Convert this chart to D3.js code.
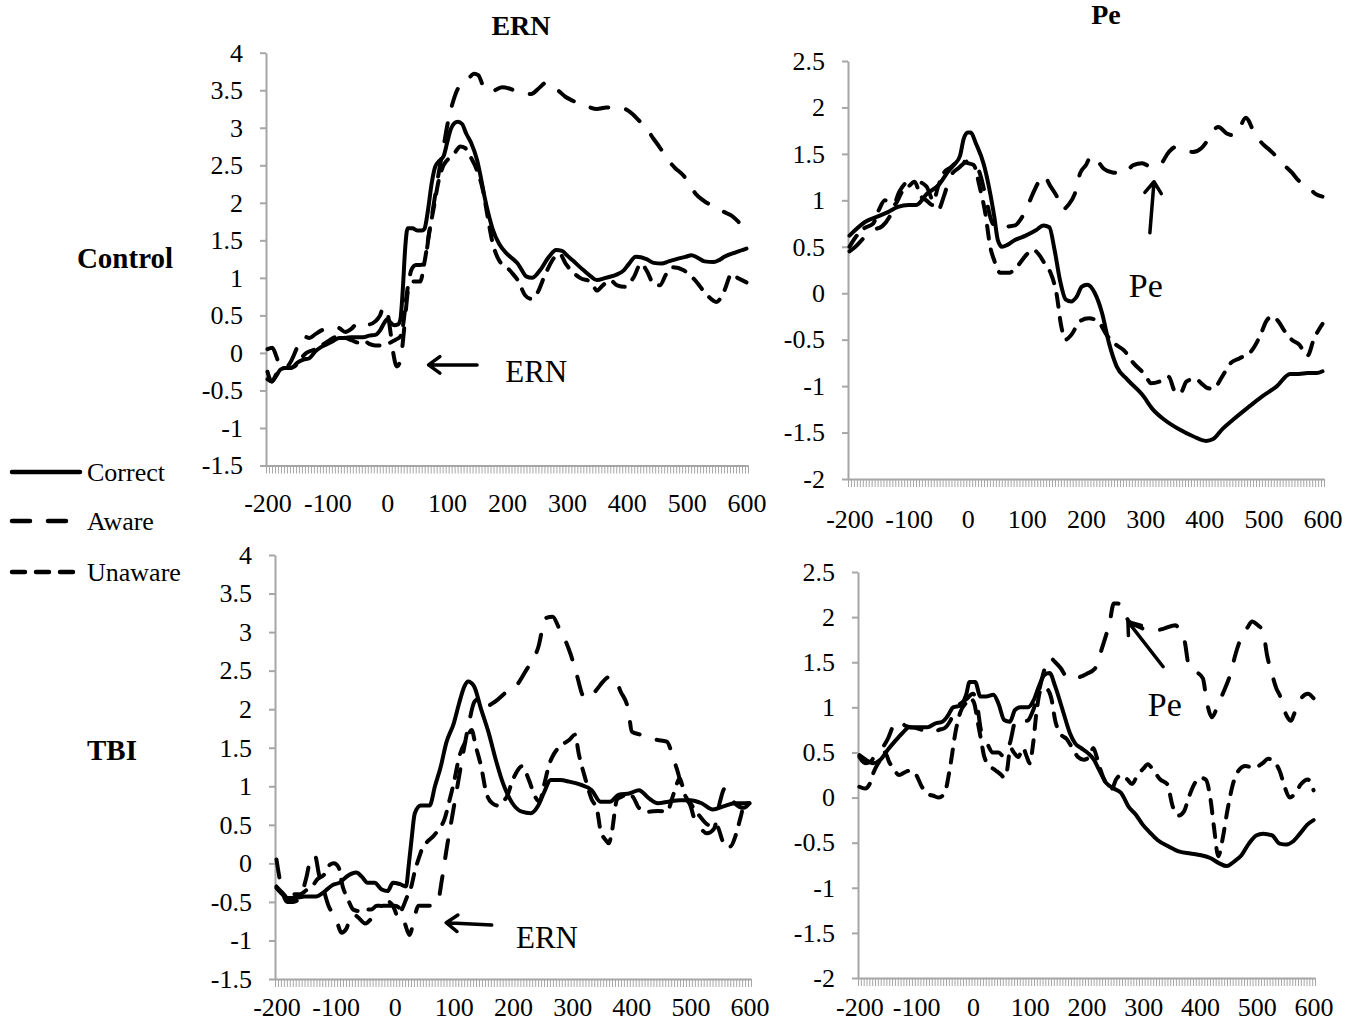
<!DOCTYPE html>
<html><head><meta charset="utf-8">
<script src="https://cdn.jsdelivr.net/npm/d3@7"></script>
<style>body{margin:0;background:#fff} svg{display:block}</style>
</head><body><svg id="c" width="1354" height="1024"></svg>
<script>
// ---------------- DATA ----------------
const xTickLabels = [-200, -100, 0, 100, 200, 300, 400, 500, 600];
const sampleStep = 5; // ms per category on the x axis
const ernTicks = [4, 3.5, 3, 2.5, 2, 1.5, 1, 0.5, 0, -0.5, -1, -1.5];
const peTicks = [2.5, 2, 1.5, 1, 0.5, 0, -0.5, -1, -1.5, -2];
const seriesNames = ["Correct", "Aware", "Unaware"];
const columnTitles = ["ERN", "Pe"];
const rowTitles = ["Control", "TBI"];

const controlErnCorrect = [[-200,-0.25],[-193,-0.38],[-185,-0.3],[-178,-0.22],[-170,-0.2],[-160,-0.2],[-150,-0.13],[-140,-0.09],[-130,-0.07],[-120,0.02],[-110,0.08],[-100,0.12],[-90,0.16],[-80,0.2],[-70,0.2],[-60,0.21],[-50,0.21],[-40,0.21],[-30,0.23],[-20,0.24],[-12,0.3],[-5,0.4],[0,0.45],[6,0.4],[12,0.37],[18,0.38],[22,0.45],[26,0.85],[30,1.4],[34,1.66],[42,1.66],[50,1.63],[58,1.63],[62,1.65],[68,1.9],[74,2.25],[80,2.48],[86,2.55],[94,2.62],[100,2.8],[106,2.98],[112,3.06],[118,3.08],[125,3.05],[132,2.92],[140,2.8],[150,2.57],[156,2.35],[162,2.1],[170,1.82],[176,1.65],[187,1.45],[200,1.32],[210,1.25],[218,1.19],[225,1.1],[232,1.02],[242,1.0],[255,1.1],[270,1.28],[282,1.37],[292,1.36],[300,1.3],[310,1.23],[328,1.1],[340,1.02],[350,0.97],[365,1.0],[385,1.05],[395,1.1],[403,1.18],[415,1.28],[433,1.25],[445,1.2],[458,1.19],[470,1.22],[483,1.25],[498,1.28],[508,1.3],[518,1.27],[530,1.22],[545,1.21],[555,1.24],[563,1.28],[582,1.34],[600,1.39]];
const controlErnAware = [[-200,0.05],[-192,0.07],[-185,-0.05],[-178,-0.2],[-170,-0.2],[-160,-0.1],[-150,0.08],[-140,0.22],[-130,0.2],[-120,0.25],[-110,0.3],[-100,0.33],[-90,0.35],[-80,0.33],[-70,0.28],[-60,0.32],[-50,0.4],[-40,0.42],[-30,0.38],[-20,0.42],[-12,0.5],[-6,0.62],[0,0.55],[5,0.3],[10,0.0],[16,-0.18],[22,-0.1],[28,0.3],[34,0.8],[40,1.1],[48,1.17],[55,1.17],[62,1.2],[70,1.6],[78,2.0],[86,2.4],[94,2.75],[102,3.1],[110,3.35],[118,3.52],[126,3.6],[135,3.65],[145,3.72],[152,3.7],[160,3.56],[170,3.48],[180,3.5],[192,3.54],[205,3.52],[220,3.47],[240,3.45],[255,3.54],[265,3.6],[275,3.56],[285,3.5],[298,3.41],[310,3.36],[322,3.31],[335,3.28],[350,3.25],[366,3.27],[385,3.27],[400,3.24],[410,3.18],[420,3.1],[432,3.0],[445,2.85],[455,2.74],[468,2.58],[480,2.47],[495,2.36],[505,2.25],[515,2.12],[530,2.02],[545,1.95],[562,1.88],[575,1.83],[590,1.72],[600,1.65]];
const controlErnUnaware = [[-200,-0.35],[-193,-0.38],[-185,-0.28],[-175,-0.2],[-165,-0.2],[-155,-0.18],[-145,-0.08],[-135,0.0],[-120,0.05],[-110,0.1],[-100,0.15],[-90,0.2],[-80,0.22],[-70,0.2],[-60,0.17],[-50,0.14],[-40,0.17],[-30,0.12],[-20,0.1],[-10,0.1],[0,0.12],[8,0.15],[15,0.18],[22,0.22],[27,0.4],[32,0.75],[37,0.95],[45,0.95],[55,0.95],[62,1.2],[70,1.6],[78,1.95],[86,2.3],[94,2.5],[104,2.6],[113,2.67],[122,2.75],[130,2.73],[140,2.6],[150,2.43],[160,2.16],[168,1.8],[175,1.5],[187,1.23],[200,1.14],[210,1.05],[218,0.97],[230,0.77],[240,0.72],[250,0.79],[264,1.05],[280,1.28],[288,1.32],[298,1.19],[307,1.1],[322,1.0],[341,0.94],[350,0.83],[360,0.9],[372,0.97],[384,0.9],[397,0.88],[411,1.0],[424,1.19],[433,1.1],[445,0.92],[455,0.9],[466,1.05],[477,1.14],[495,1.1],[514,0.97],[532,0.79],[550,0.68],[563,0.83],[575,1.05],[587,0.99],[600,0.94]];

const controlPeCorrect = [[-200,0.62],[-192,0.67],[-173,0.77],[-155,0.82],[-136,0.87],[-118,0.93],[-100,0.95],[-87,0.95],[-69,1.07],[-50,1.16],[-32,1.32],[-22,1.39],[-13,1.48],[-7,1.66],[0,1.73],[5,1.73],[14,1.61],[27,1.39],[36,1.14],[45,0.82],[51,0.57],[58,0.5],[67,0.52],[79,0.57],[98,0.62],[116,0.68],[128,0.73],[138,0.71],[147,0.46],[156,0.14],[166,-0.07],[175,-0.09],[184,-0.04],[193,0.07],[202,0.09],[215,0.0],[227,-0.21],[239,-0.54],[252,-0.79],[270,-0.93],[295,-1.09],[313,-1.25],[332,-1.36],[356,-1.46],[381,-1.54],[403,-1.59],[415,-1.57],[431,-1.46],[449,-1.36],[474,-1.23],[498,-1.11],[523,-1.0],[545,-0.87],[560,-0.87],[575,-0.86],[590,-0.86],[600,-0.84]];
const controlPeAware = [[-200,0.45],[-190,0.5],[-175,0.6],[-160,0.68],[-145,0.72],[-130,0.85],[-115,1.1],[-100,1.2],[-85,1.2],[-70,1.15],[-60,1.0],[-50,0.9],[-40,1.05],[-30,1.25],[-15,1.35],[0,1.42],[10,1.4],[20,1.3],[30,1.05],[40,0.78],[50,0.7],[60,0.7],[70,0.72],[80,0.73],[90,0.8],[100,0.92],[110,1.07],[120,1.2],[128,1.27],[140,1.15],[150,1.05],[160,0.9],[170,0.95],[181,1.07],[190,1.29],[200,1.38],[209,1.48],[220,1.42],[230,1.34],[245,1.3],[264,1.29],[280,1.38],[295,1.4],[310,1.36],[326,1.39],[340,1.52],[350,1.57],[365,1.55],[381,1.52],[395,1.56],[405,1.64],[415,1.75],[424,1.79],[438,1.72],[450,1.7],[460,1.78],[470,1.89],[486,1.71],[500,1.6],[511,1.54],[525,1.45],[535,1.38],[548,1.3],[560,1.21],[575,1.15],[588,1.07],[600,1.04]];
const controlPeUnaware = [[-200,0.5],[-190,0.6],[-175,0.7],[-160,0.75],[-150,0.9],[-140,1.0],[-125,0.95],[-110,1.1],[-100,1.15],[-90,1.2],[-80,1.05],[-70,1.0],[-60,0.95],[-50,1.15],[-40,1.3],[-30,1.35],[-20,1.4],[-10,1.42],[0,1.4],[10,1.38],[20,1.15],[30,0.85],[38,0.5],[45,0.35],[55,0.22],[70,0.22],[85,0.3],[100,0.42],[110,0.47],[120,0.42],[130,0.32],[140,0.22],[150,0.0],[158,-0.35],[165,-0.5],[175,-0.45],[190,-0.3],[205,-0.27],[220,-0.3],[235,-0.45],[250,-0.55],[265,-0.62],[280,-0.75],[300,-0.88],[310,-0.97],[325,-0.95],[340,-0.9],[350,-1.05],[360,-1.07],[370,-0.95],[385,-0.92],[395,-0.97],[405,-1.02],[415,-1.03],[430,-0.9],[445,-0.75],[460,-0.7],[480,-0.62],[495,-0.45],[505,-0.3],[515,-0.25],[525,-0.3],[535,-0.4],[548,-0.5],[560,-0.55],[575,-0.67],[585,-0.5],[595,-0.38],[600,-0.33]];

const tbiErnCorrect = [[-200,-0.32],[-193,-0.38],[-180,-0.45],[-170,-0.45],[-152,-0.43],[-133,-0.43],[-121,-0.38],[-105,-0.28],[-93,-0.25],[-81,-0.17],[-65,-0.12],[-56,-0.17],[-46,-0.25],[-34,-0.25],[-22,-0.34],[-12,-0.36],[-3,-0.25],[9,-0.27],[19,-0.3],[24,0.0],[28,0.28],[34,0.65],[44,0.75],[59,0.75],[68,1.0],[78,1.26],[87,1.56],[100,1.82],[109,2.08],[118,2.3],[124,2.36],[134,2.3],[146,2.0],[159,1.69],[171,1.34],[183,1.04],[199,0.78],[215,0.67],[230,0.65],[242,0.74],[252,0.91],[264,1.08],[280,1.08],[295,1.06],[314,1.02],[333,0.95],[348,0.8],[364,0.8],[379,0.89],[398,0.91],[413,0.95],[429,0.85],[445,0.78],[463,0.8],[482,0.82],[500,0.82],[519,0.78],[538,0.7],[556,0.74],[575,0.78],[600,0.78]];
const tbiErnAware = [[-200,0.05],[-192,-0.3],[-182,-0.5],[-172,-0.5],[-160,-0.45],[-150,-0.2],[-140,0.1],[-135,0.1],[-128,-0.15],[-120,-0.35],[-112,-0.55],[-100,-0.7],[-90,-0.9],[-82,-0.85],[-72,-0.65],[-62,-0.7],[-50,-0.78],[-40,-0.72],[-30,-0.6],[-20,-0.55],[-10,-0.55],[0,-0.55],[10,-0.6],[18,-0.8],[25,-0.93],[32,-0.75],[40,-0.55],[50,-0.55],[60,-0.55],[72,-0.52],[80,-0.2],[88,0.2],[97,0.6],[106,1.0],[115,1.4],[125,1.8],[135,2.1],[146,2.15],[158,2.05],[170,2.1],[190,2.23],[205,2.3],[221,2.49],[243,2.81],[255,3.18],[267,3.2],[278,3.05],[288,2.9],[298,2.7],[308,2.44],[320,2.16],[330,2.15],[339,2.23],[364,2.42],[375,2.35],[382,2.23],[395,1.99],[401,1.71],[415,1.67],[429,1.62],[445,1.6],[460,1.58],[472,1.34],[480,1.15],[488,0.9],[500,0.75],[507,0.57],[519,0.44],[528,0.39],[540,0.45],[550,0.8],[558,0.97],[565,0.88],[575,0.78],[590,0.72],[600,0.78]];
const tbiErnUnaware = [[-200,-0.3],[-190,-0.38],[-180,-0.45],[-170,-0.4],[-160,-0.4],[-150,-0.35],[-140,-0.3],[-130,-0.2],[-120,-0.15],[-110,-0.02],[-103,0.0],[-95,-0.05],[-88,-0.3],[-80,-0.45],[-70,-0.6],[-60,-0.62],[-50,-0.6],[-40,-0.6],[-30,-0.55],[-20,-0.55],[-10,-0.5],[-3,-0.55],[5,-0.68],[12,-0.6],[20,-0.45],[28,-0.3],[34,-0.1],[40,0.05],[47,0.2],[55,0.28],[65,0.35],[75,0.45],[84,0.57],[92,0.8],[100,1.05],[109,1.38],[121,1.6],[130,1.73],[137,1.52],[146,1.26],[155,0.91],[165,0.78],[175,0.75],[182,0.8],[190,0.87],[198,1.05],[205,1.17],[215,1.26],[227,1.08],[237,0.87],[245,0.8],[252,1.0],[262,1.3],[270,1.43],[280,1.52],[295,1.6],[305,1.67],[311,1.43],[323,1.08],[333,0.83],[342,0.7],[348,0.43],[357,0.3],[362,0.26],[367,0.4],[376,0.83],[385,0.87],[395,0.91],[404,0.85],[413,0.72],[429,0.67],[445,0.68],[460,0.67],[472,0.91],[482,1.1],[490,0.9],[500,0.78],[515,0.62],[530,0.5],[545,0.48],[556,0.27],[568,0.22],[576,0.35],[585,0.6],[592,0.78],[600,0.78]];

const tbiPeCorrect = [[-200,0.47],[-189,0.42],[-176,0.38],[-163,0.42],[-150,0.53],[-138,0.62],[-125,0.71],[-112,0.78],[-93,0.78],[-80,0.78],[-67,0.82],[-54,0.84],[-44,0.91],[-35,1.0],[-22,1.02],[-12,1.14],[-6,1.28],[4,1.28],[13,1.12],[23,1.12],[36,1.14],[45,1.04],[55,0.86],[65,0.84],[74,0.97],[84,1.0],[97,1.0],[107,1.08],[116,1.23],[126,1.36],[135,1.38],[145,1.23],[158,0.97],[171,0.71],[180,0.6],[190,0.55],[203,0.49],[213,0.42],[222,0.31],[235,0.16],[248,0.1],[261,0.05],[274,-0.1],[287,-0.19],[299,-0.3],[312,-0.39],[325,-0.47],[344,-0.54],[364,-0.6],[383,-0.62],[402,-0.64],[418,-0.67],[434,-0.73],[447,-0.76],[460,-0.71],[473,-0.64],[486,-0.51],[499,-0.42],[511,-0.4],[527,-0.42],[540,-0.51],[553,-0.52],[563,-0.49],[576,-0.4],[589,-0.3],[600,-0.25]];
const tbiPeAware = [[-200,0.45],[-190,0.38],[-180,0.4],[-170,0.5],[-160,0.55],[-150,0.65],[-140,0.8],[-130,0.85],[-120,0.8],[-110,0.78],[-100,0.77],[-90,0.75],[-80,0.72],[-70,0.72],[-60,0.75],[-50,0.77],[-40,0.85],[-30,1.0],[-20,1.05],[-10,1.1],[0,1.15],[5,1.1],[15,0.72],[25,0.6],[35,0.5],[45,0.5],[55,0.45],[65,0.6],[75,0.85],[85,0.88],[95,0.85],[105,0.95],[115,1.15],[125,1.4],[135,1.55],[145,1.5],[155,1.43],[163,1.35],[171,1.32],[185,1.33],[200,1.37],[215,1.43],[228,1.67],[241,1.95],[248,2.15],[256,2.15],[264,2.08],[275,1.95],[290,1.9],[305,1.86],[319,1.85],[335,1.87],[357,1.91],[366,1.82],[373,1.73],[380,1.47],[392,1.4],[405,1.32],[412,1.06],[421,0.89],[430,1.0],[438,1.12],[454,1.38],[463,1.6],[473,1.78],[483,1.88],[492,1.95],[500,1.92],[511,1.84],[518,1.58],[528,1.34],[535,1.2],[540,1.14],[553,0.9],[560,0.85],[566,0.93],[576,1.08],[590,1.15],[600,1.1]];
const tbiPeUnaware = [[-200,0.12],[-190,0.1],[-182,0.15],[-175,0.28],[-165,0.4],[-155,0.5],[-148,0.4],[-140,0.32],[-130,0.25],[-120,0.28],[-110,0.3],[-100,0.25],[-90,0.12],[-80,0.04],[-70,0.02],[-60,0.0],[-50,0.05],[-40,0.35],[-30,0.75],[-22,0.95],[-12,1.05],[-5,1.1],[2,1.05],[8,0.85],[14,0.65],[20,0.45],[30,0.35],[40,0.3],[50,0.25],[55,0.22],[60,0.3],[66,0.55],[72,0.5],[80,0.45],[88,0.55],[95,0.45],[100,0.38],[106,0.6],[112,0.95],[120,1.2],[130,1.2],[138,1.1],[145,0.85],[155,0.7],[165,0.65],[175,0.55],[185,0.45],[195,0.42],[205,0.45],[212,0.55],[218,0.45],[225,0.3],[235,0.15],[245,0.1],[252,0.2],[262,0.25],[272,0.2],[280,0.15],[290,0.25],[300,0.32],[308,0.37],[318,0.3],[330,0.2],[342,0.15],[352,-0.1],[362,-0.2],[372,-0.15],[380,0.0],[390,0.15],[400,0.22],[410,0.2],[418,0.0],[425,-0.35],[432,-0.65],[440,-0.45],[448,-0.15],[458,0.15],[468,0.3],[480,0.35],[495,0.33],[510,0.38],[520,0.43],[530,0.4],[540,0.3],[550,0.1],[558,0.0],[568,0.05],[578,0.15],[590,0.2],[600,0.08]];

// annotation anchors in data units [time, value]
const annotControlErn = {label: "ERN", head: [69, -0.16], tail: [150, -0.16], text: [197, -0.385]};
const annotControlPe  = {label: "Pe",  head: [315, 1.2], tail: [308, 0.65], text: [301, -0.04]};
const annotTbiErn     = {label: "ERN", head: [87, -0.77], tail: [164, -0.8], text: [205, -1.1]};
const annotTbiPe      = {label: "Pe",  head: [273, 1.95], tail: [335, 1.45], text: [338, 0.9]};

// ---------------- DRAWING ----------------
const FONT = '"Liberation Serif", "Times New Roman", Times, serif';
const AXIS = '#a6a6a6';
const svg = d3.select('#c').style('font-family', FONT);
svg.append('rect').attr('width', 1354).attr('height', 1024).attr('fill', '#fff');

const lineStyle = {
  Correct: {dash: null},
  Aware:   {dash: '18,18'},
  Unaware: {dash: '13,11'}
};

const panels = [
  {x0: 266, x1: 748, yTop: 52.7, yBot: 465.5, ticks: ernTicks, data: [controlErnCorrect, controlErnAware, controlErnUnaware], annot: annotControlErn, xlabPad: 28},
  {x0: 848, x1: 1324, yTop: 61, yBot: 479, ticks: peTicks, data: [controlPeCorrect, controlPeAware, controlPeUnaware], annot: annotControlPe, xlabPad: 31},
  {x0: 275, x1: 751, yTop: 555, yBot: 979, ticks: ernTicks, data: [tbiErnCorrect, tbiErnAware, tbiErnUnaware], annot: annotTbiErn, xlabPad: 19},
  {x0: 858, x1: 1315, yTop: 572, yBot: 978, ticks: peTicks, data: [tbiPeCorrect, tbiPeAware, tbiPeUnaware], annot: annotTbiPe, xlabPad: 20}
];

const tMin = d3.min(xTickLabels), tMax = d3.max(xTickLabels);
const bandEdges = d3.range(tMin - sampleStep / 2, tMax + sampleStep, sampleStep);

panels.forEach(p => {
  const x = d3.scaleLinear().domain([tMin - sampleStep / 2, tMax + sampleStep / 2]).range([p.x0, p.x1]);
  const y = d3.scaleLinear().domain([d3.max(p.ticks), d3.min(p.ticks)]).range([p.yTop, p.yBot]);
  const g = svg.append('g');

  // minor category ticks
  const minor = g.append('g').attr('transform', `translate(0,${p.yBot})`)
    .call(d3.axisBottom(x).tickValues(bandEdges).tickSize(8).tickSizeOuter(0).tickFormat(''));
  minor.selectAll('.tick line').attr('stroke', AXIS).attr('stroke-width', 1);
  minor.select('.domain').attr('stroke', AXIS).attr('stroke-width', 2);

  // x labels
  const xl = g.append('g').attr('transform', `translate(0,${p.yBot})`)
    .call(d3.axisBottom(x).tickValues(xTickLabels).tickSize(0).tickPadding(p.xlabPad).tickFormat(d => String(d)));
  xl.select('.domain').remove();
  xl.selectAll('text').attr('font-size', 26).attr('font-family', FONT).attr('fill', '#000');

  // y axis
  const ya = g.append('g').attr('transform', `translate(${p.x0},0)`)
    .call(d3.axisLeft(y).tickValues(p.ticks).tickSize(6).tickSizeOuter(0).tickPadding(17).tickFormat(d => String(d)));
  ya.select('.domain').attr('stroke', AXIS).attr('stroke-width', 2);
  ya.selectAll('.tick line').attr('stroke', AXIS).attr('stroke-width', 2);
  ya.selectAll('text').attr('font-size', 26).attr('font-family', FONT).attr('fill', '#000');

  // series
  const line = d3.line().x(d => x(d[0])).y(d => y(d[1])).curve(d3.curveMonotoneX);
  p.data.forEach((s, i) => {
    const st = lineStyle[seriesNames[i]];
    g.append('path').datum(s).attr('d', line)
      .attr('fill', 'none').attr('stroke', '#000').attr('stroke-width', 4)
      .attr('stroke-linejoin', 'round').attr('stroke-linecap', 'round')
      .attr('stroke-dasharray', st.dash);
  });

  // annotation arrow + label
  const a = p.annot;
  const hx = x(a.head[0]), hy = y(a.head[1]), tx = x(a.tail[0]), ty = y(a.tail[1]);
  const ang = Math.atan2(hy - ty, hx - tx);
  const L = 14, spread = Math.PI / 5;
  const p1 = [hx - L * Math.cos(ang - spread), hy - L * Math.sin(ang - spread)];
  const p2 = [hx - L * Math.cos(ang + spread), hy - L * Math.sin(ang + spread)];
  g.append('path')
    .attr('d', `M${tx},${ty}L${hx},${hy}M${p1[0]},${p1[1]}L${hx},${hy}L${p2[0]},${p2[1]}`)
    .attr('fill', 'none').attr('stroke', '#000').attr('stroke-width', 3.5)
    .attr('stroke-linecap', 'round').attr('stroke-linejoin', 'round');
  const isErn = a.label === 'ERN';
  g.append('text').attr('x', x(a.text[0])).attr('y', y(a.text[1]))
    .attr('text-anchor', isErn ? 'start' : 'middle')
    .attr('font-size', isErn ? 31 : 34).attr('fill', '#000').text(a.label);
});

// column titles
svg.append('text').attr('x', 521).attr('y', 35).attr('text-anchor', 'middle')
  .attr('font-weight', 'bold').attr('font-size', 28).text(columnTitles[0]);
svg.append('text').attr('x', 1106).attr('y', 24).attr('text-anchor', 'middle')
  .attr('font-weight', 'bold').attr('font-size', 28).text(columnTitles[1]);

// row titles
svg.append('text').attr('x', 125).attr('y', 268).attr('text-anchor', 'middle')
  .attr('font-weight', 'bold').attr('font-size', 29).text(rowTitles[0]);
svg.append('text').attr('x', 112).attr('y', 760).attr('text-anchor', 'middle')
  .attr('font-weight', 'bold').attr('font-size', 29).text(rowTitles[1]);

// legend
const legendY = [472, 521, 572];
const legendEnd = [80, 66, 73];
seriesNames.forEach((n, i) => {
  svg.append('line').attr('x1', 12).attr('x2', legendEnd[i]).attr('y1', legendY[i]).attr('y2', legendY[i])
    .attr('stroke', '#000').attr('stroke-width', 4.5).attr('stroke-linecap', 'round')
    .attr('stroke-dasharray', lineStyle[n].dash);
  svg.append('text').attr('x', 87).attr('y', legendY[i] + 9).attr('font-size', 26).attr('fill', '#000').text(n);
});
</script>
</body></html>
